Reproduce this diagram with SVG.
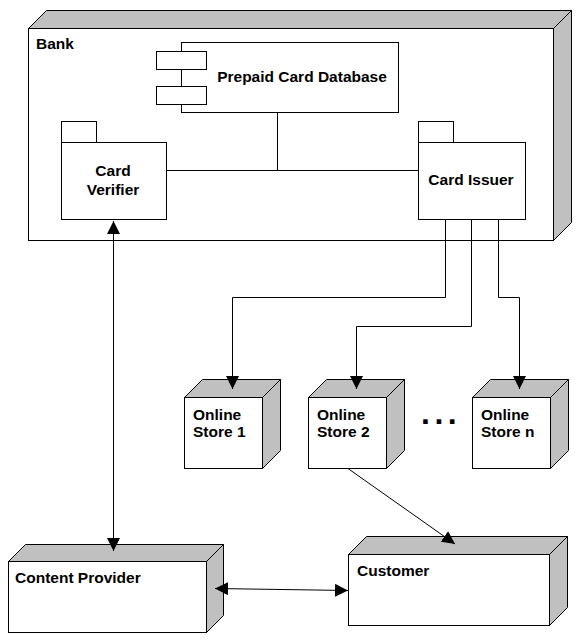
<svg xmlns="http://www.w3.org/2000/svg" width="578" height="642" viewBox="0 0 578 642">
<style>
.face{fill:#ffffff;stroke:#000;stroke-width:1}
.side{fill:#c0c0c0;stroke:#000;stroke-width:1}
.lbl{font-family:"Liberation Sans",Arial,sans-serif;font-weight:bold;font-size:15.5px;fill:#000}
.mid{text-anchor:middle}
.conn{fill:none;stroke:#000;stroke-width:1}
</style>
<defs>
<marker id="arr" viewBox="0 0 13 13" markerWidth="13" markerHeight="13" refX="13" refY="6.5" orient="auto-start-reverse" markerUnits="userSpaceOnUse">
<path d="M0,0 L13,6.5 L0,13 z" fill="#000"/>
</marker>
</defs>
<rect width="578" height="642" fill="#fff"/>

<g id="bank">
<polygon class="side" points="28.5,28.5 46.5,10.5 571.5,10.5 553.5,28.5"/>
<polygon class="side" points="553.5,28.5 571.5,10.5 571.5,222.5 553.5,240.5"/>
<rect class="face" x="28.5" y="28.5" width="525" height="212"/>
<text class="lbl" x="36" y="49">Bank</text>
</g>

<g id="prepaid-card-database">
<rect class="face" x="181.5" y="42.5" width="217" height="70"/>
<rect class="face" x="156.5" y="51.5" width="50" height="18"/>
<rect class="face" x="156.5" y="86.5" width="50" height="18"/>
<text class="lbl mid" x="302" y="82">Prepaid Card Database</text>
</g>

<g id="card-verifier">
<rect class="face" x="61.5" y="121.5" width="35" height="21"/>
<rect class="face" x="61.5" y="142.5" width="105" height="77"/>
<text class="lbl mid" x="113" y="176">Card</text>
<text class="lbl mid" x="113" y="195">Verifier</text>
</g>

<g id="card-issuer">
<rect class="face" x="418.5" y="121.5" width="35" height="21"/>
<rect class="face" x="418.5" y="142.5" width="107" height="77"/>
<text class="lbl mid" x="471" y="185">Card Issuer</text>
</g>

<g id="online-store-1">
<polygon class="side" points="184.5,397.5 202.5,379.5 280.5,379.5 262.5,397.5"/>
<polygon class="side" points="262.5,397.5 280.5,379.5 280.5,450.5 262.5,468.5"/>
<rect class="face" x="184.5" y="397.5" width="78" height="71"/>
<text class="lbl" x="193" y="420">Online</text>
<text class="lbl" x="193" y="437">Store 1</text>
</g>

<g id="online-store-2">
<polygon class="side" points="308.5,397.5 326.5,379.5 404.5,379.5 386.5,397.5"/>
<polygon class="side" points="386.5,397.5 404.5,379.5 404.5,450.5 386.5,468.5"/>
<rect class="face" x="308.5" y="397.5" width="78" height="71"/>
<text class="lbl" x="317" y="420">Online</text>
<text class="lbl" x="317" y="437">Store 2</text>
</g>

<text class="lbl" x="421" y="424" style="font-size:32px;letter-spacing:4.5px">...</text>

<g id="online-store-n">
<polygon class="side" points="472.5,397.5 490.5,379.5 568.5,379.5 550.5,397.5"/>
<polygon class="side" points="550.5,397.5 568.5,379.5 568.5,450.5 550.5,468.5"/>
<rect class="face" x="472.5" y="397.5" width="78" height="71"/>
<text class="lbl" x="481" y="420">Online</text>
<text class="lbl" x="481" y="437">Store n</text>
</g>

<g id="content-provider">
<polygon class="side" points="8.5,561.5 25.5,544.5 223.5,544.5 206.5,561.5"/>
<polygon class="side" points="206.5,561.5 223.5,544.5 223.5,615.5 206.5,632.5"/>
<rect class="face" x="8.5" y="561.5" width="198" height="71"/>
<text class="lbl" x="15" y="583">Content Provider</text>
</g>

<g id="customer">
<polygon class="side" points="348.5,554.5 366.5,536.5 567.5,536.5 549.5,554.5"/>
<polygon class="side" points="549.5,554.5 567.5,536.5 567.5,607.5 549.5,625.5"/>
<rect class="face" x="348.5" y="554.5" width="201" height="71"/>
<text class="lbl" x="357" y="576">Customer</text>
</g>

<g id="connectors">
<path class="conn" d="M277.5,112.5 V170.5"/>
<path class="conn" d="M166.5,170.5 H418.5"/>
<path class="conn" d="M445.5,219.5 V297.5 H232.5 V389" marker-end="url(#arr)"/>
<path class="conn" d="M471.5,219.5 V326.5 H356.5 V389" marker-end="url(#arr)"/>
<path class="conn" d="M498.5,219.5 V297.5 H519.5 V389" marker-end="url(#arr)"/>
<path class="conn" d="M113.5,221 V551" marker-start="url(#arr)" marker-end="url(#arr)"/>
<path class="conn" d="M215,588.5 L348,590.5" marker-start="url(#arr)" marker-end="url(#arr)"/>
<path class="conn" d="M348,468.5 L455,544" marker-end="url(#arr)"/>
</g>
</svg>
